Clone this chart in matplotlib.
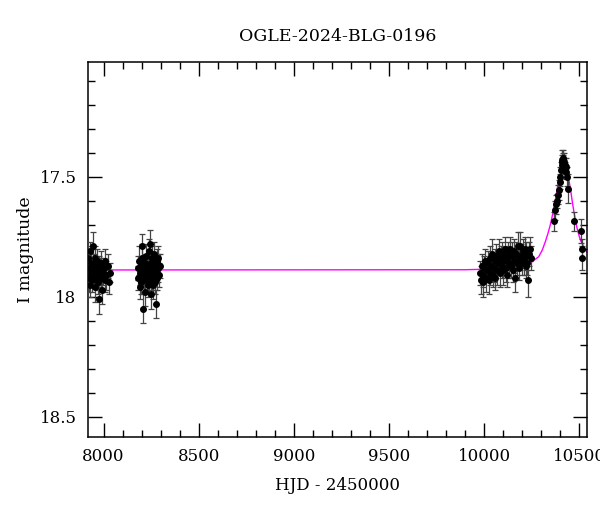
import matplotlib
matplotlib.use("Agg")
import matplotlib.pyplot as plt
from matplotlib.ticker import MultipleLocator

plt.rcParams['font.family'] = ['DejaVu Serif']

title = "OGLE-2024-BLG-0196"
xlabel = "HJD - 2450000"
ylabel = "I magnitude"

# Season 1
t1 = [7918, 7921, 7924, 7927, 7930, 7933, 7936, 7939, 7942, 7945, 7948, 7951, 7954, 7957, 7960, 7963,
      7966, 7969, 7972, 7975, 7978, 7981, 7985, 7989, 7993, 7997, 8001, 8005, 8010, 8015, 8021, 8027, 8033]
m1 = [17.84, 17.92, 17.88, 17.95, 17.81, 17.90, 17.86, 17.93, 17.89, 17.79, 17.87, 17.91, 17.84, 17.96, 17.88, 17.92,
      17.85, 17.90, 17.94, 17.87, 18.01, 17.89, 17.92, 17.86, 17.97, 17.90, 17.88, 17.93, 17.85, 17.91, 17.87, 17.94, 17.90]
e1 = [0.05, 0.06, 0.05, 0.05, 0.04, 0.05, 0.06, 0.05, 0.05, 0.06, 0.05, 0.04, 0.05, 0.06, 0.05, 0.05,
      0.05, 0.06, 0.05, 0.04, 0.06, 0.05, 0.05, 0.05, 0.06, 0.05, 0.04, 0.05, 0.05, 0.06, 0.05, 0.05, 0.04]

# Season 2
t2 = [8180, 8183, 8186, 8189, 8192, 8195, 8198, 8201, 8204, 8206, 8209, 8211, 8214, 8216, 8219, 8221,
      8224, 8226, 8229, 8231, 8234, 8236, 8239, 8241, 8244, 8246, 8249, 8251, 8254, 8256, 8259, 8261,
      8264, 8266, 8269, 8271, 8274, 8276, 8279, 8282, 8285, 8288, 8291, 8294]
m2 = [17.88, 17.92, 17.85, 17.96, 17.90, 17.87, 17.94, 17.84, 17.79, 17.91, 18.05, 17.89, 17.93, 17.86, 17.98, 17.88,
      17.83, 17.92, 17.90, 17.95, 17.87, 17.81, 17.93, 17.89, 17.78, 17.91, 17.86, 17.99, 17.84, 17.92, 17.88, 17.95,
      17.82, 17.90, 17.87, 17.94, 18.03, 17.89, 17.85, 17.92, 17.88, 17.84, 17.91, 17.87]
e2 = [0.05, 0.05, 0.06, 0.05, 0.05, 0.04, 0.05, 0.06, 0.05, 0.05, 0.06, 0.05, 0.05, 0.04, 0.06, 0.05,
      0.05, 0.05, 0.06, 0.05, 0.05, 0.05, 0.05, 0.04, 0.06, 0.05, 0.05, 0.06, 0.05, 0.05, 0.05, 0.06,
      0.05, 0.05, 0.04, 0.05, 0.06, 0.05, 0.05, 0.05, 0.06, 0.05, 0.05, 0.05]

# Season 3
t3 = [9980, 9984, 9988, 9992, 9996, 10001, 10005, 10010, 10014, 10019, 10023, 10028, 10032, 10037, 10041,
      10046, 10050, 10055, 10059, 10064, 10068, 10073, 10077, 10082, 10086, 10091, 10095, 10100, 10104, 10109,
      10113, 10118, 10122, 10127, 10131, 10136, 10140, 10145, 10149, 10154, 10158, 10163, 10167, 10172, 10176,
      10181, 10185, 10190, 10194, 10199, 10203, 10208, 10212, 10217, 10221, 10226, 10230, 10235, 10240, 10245]
m3 = [17.90, 17.93, 17.87, 17.91, 17.94, 17.88, 17.85, 17.92, 17.89, 17.86, 17.93, 17.84, 17.90, 17.87, 17.82,
      17.91, 17.88, 17.85, 17.92, 17.83, 17.89, 17.86, 17.81, 17.90, 17.84, 17.87, 17.82, 17.89, 17.85, 17.80,
      17.88, 17.84, 17.91, 17.82, 17.86, 17.80, 17.87, 17.83, 17.89, 17.81, 17.85, 17.92, 17.82, 17.86, 17.79,
      17.84, 17.88, 17.79, 17.83, 17.86, 17.81, 17.85, 17.80, 17.87, 17.83, 17.86, 17.93, 17.82, 17.80, 17.84]
e3 = [0.05, 0.06, 0.05, 0.05, 0.06, 0.05, 0.05, 0.06, 0.05, 0.05, 0.06, 0.05, 0.05, 0.05, 0.06,
      0.05, 0.06, 0.05, 0.05, 0.05, 0.06, 0.05, 0.05, 0.06, 0.05, 0.05, 0.05, 0.06, 0.05, 0.05,
      0.06, 0.05, 0.05, 0.05, 0.06, 0.05, 0.05, 0.06, 0.05, 0.05, 0.05, 0.06, 0.05, 0.05, 0.06,
      0.05, 0.05, 0.06, 0.05, 0.05, 0.05, 0.06, 0.05, 0.05, 0.06, 0.05, 0.07, 0.05, 0.05, 0.05]

# Season 4 (event)
t4 = [10366, 10373, 10378, 10383, 10388, 10392, 10397, 10400, 10403, 10406, 10408, 10410, 10412, 10414,
      10416, 10418, 10420, 10422, 10424, 10427, 10430, 10434, 10442, 10472, 10506, 10513, 10516]
m4 = [17.685, 17.64, 17.615, 17.60, 17.575, 17.555, 17.52, 17.50, 17.47, 17.45, 17.43, 17.44, 17.42, 17.45,
      17.43, 17.46, 17.44, 17.45, 17.47, 17.46, 17.48, 17.50, 17.55, 17.685, 17.725, 17.80, 17.84]
e4 = [0.04, 0.04, 0.04, 0.03, 0.04, 0.04, 0.03, 0.04, 0.03, 0.03, 0.04, 0.03, 0.03, 0.04,
      0.03, 0.03, 0.04, 0.03, 0.03, 0.04, 0.03, 0.04, 0.06, 0.04, 0.05, 0.04, 0.05]

# Model curve
tm = [7916, 9900, 10000, 10100, 10200, 10250, 10286, 10305, 10321, 10335, 10347, 10357, 10365, 10375,
      10383, 10392, 10400, 10409, 10418, 10427, 10435, 10444, 10453, 10462, 10471, 10480, 10488, 10497,
      10506, 10520, 10532, 10545]
mm = [17.888, 17.887, 17.885, 17.878, 17.866, 17.854, 17.833, 17.805, 17.77, 17.735, 17.70, 17.665, 17.63, 17.59,
      17.55, 17.515, 17.49, 17.47, 17.465, 17.47, 17.485, 17.51, 17.55, 17.60, 17.645, 17.685, 17.715, 17.742,
      17.764, 17.787, 17.805, 17.82]

fig = plt.figure(figsize=(6.0, 5.12), dpi=100)
ax = fig.add_axes([0.146, 0.147, 0.833, 0.7325])

for t, m, e in [(t1, m1, e1), (t2, m2, e2), (t3, m3, e3), (t4, m4, e4)]:
    line, caps, bars = ax.errorbar(t, m, yerr=e, fmt='o', color='black', ecolor='#444444', markersize=4,
                                   elinewidth=0.9, capsize=2.2, capthick=0.9, zorder=3)
    for c in caps:
        c.set_color('black')

ax.plot(tm, mm, color='#ff00ff', lw=1.0, zorder=2)

ax.set_xlim(7916, 10542)
ax.set_ylim(18.583, 17.02)

ax.xaxis.set_major_locator(MultipleLocator(500))
ax.xaxis.set_minor_locator(MultipleLocator(100))
ax.yaxis.set_major_locator(MultipleLocator(0.5))
ax.yaxis.set_minor_locator(MultipleLocator(0.1))
ax.yaxis.set_major_formatter(plt.FuncFormatter(lambda v, p: ('%g' % v)))

ax.tick_params(which='both', direction='in', top=True, right=True, width=1.0, labelsize=12)
ax.tick_params(which='major', length=10, pad=8)
ax.tick_params(which='minor', length=5)
for s in ax.spines.values():
    s.set_linewidth(1.1)

ax.set_title(title, fontsize=12.5, pad=15)
ax.set_xlabel(xlabel, fontsize=12, labelpad=9)
ax.set_ylabel(ylabel, fontsize=12.5, labelpad=4)

fig.savefig("out.png", dpi=100)
